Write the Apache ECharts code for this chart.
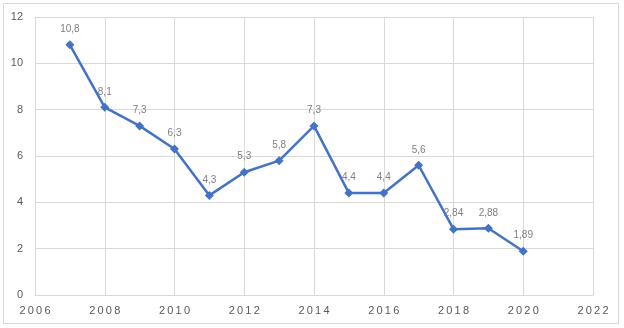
<!DOCTYPE html>
<html><head><meta charset="utf-8">
<script src="https://cdn.jsdelivr.net/npm/echarts@6/dist/echarts.min.js"></script>
<style>html,body{margin:0;padding:0;background:#fff}#c{width:624px;height:328px;position:relative}
#b{position:absolute;left:3px;top:3px;width:616px;height:321px;border:1px solid #d9d9d9;box-sizing:border-box;pointer-events:none}</style>
</head><body><div id="c"></div><div id="b"></div>
<script>
const years = [2007, 2008, 2009, 2010, 2011, 2012, 2013, 2014, 2015, 2016, 2017, 2018, 2019, 2020];
const values = [10.8, 8.1, 7.3, 6.3, 4.3, 5.3, 5.8, 7.3, 4.4, 4.4, 5.6, 2.84, 2.88, 1.89];
const labels = ['10,8', '8,1', '7,3', '6,3', '4,3', '5,3', '5,8', '7,3', '4,4', '4,4', '5,6', '2,84', '2,88', '1,89'];

const chart = echarts.init(document.getElementById('c'), null, {renderer: 'canvas'});
chart.setOption({
  animation: false,
  grid: {left: 35, right: 31, top: 17, bottom: 33},
  xAxis: {
    type: 'value', min: 2006, max: 2022, interval: 2,
    axisLine: {show: true, lineStyle: {color: '#d9d9d9'}},
    axisTick: {show: false},
    splitLine: {show: true, lineStyle: {color: '#d9d9d9'}},
    axisLabel: {color: '#595959', fontSize: 11, fontFamily: 'Liberation Sans', margin: 10,
      formatter: v => String(v).split('').join('\u2009')}
  },
  yAxis: {
    type: 'value', min: 0, max: 12, interval: 2,
    axisLine: {show: false},
    axisTick: {show: false},
    splitLine: {show: true, lineStyle: {color: '#d9d9d9'}},
    axisLabel: {color: '#595959', fontSize: 11, fontFamily: 'Liberation Sans', margin: 12}
  },
  series: [{
    type: 'line',
    data: years.map((y, i) => [y, values[i]]),
    symbol: 'diamond', symbolSize: 9,
    lineStyle: {color: '#4472C4', width: 2.5},
    itemStyle: {color: '#4472C4'},
    label: {show: true, position: 'top', distance: 6, color: '#7f7f7f', fontSize: 10, fontFamily: 'Liberation Sans',
      formatter: p => labels[p.dataIndex]}
  }]
});
</script></body></html>
